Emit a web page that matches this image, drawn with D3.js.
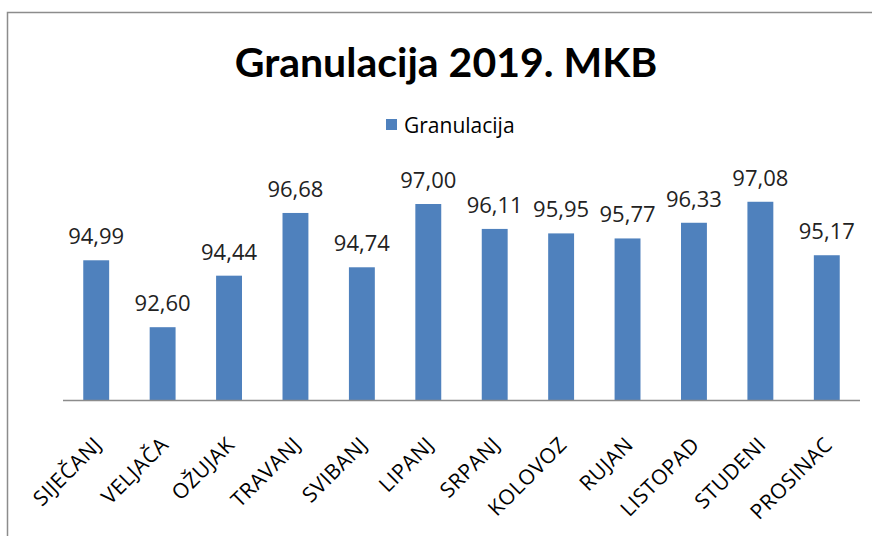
<!DOCTYPE html>
<html lang="hr">
<head>
  <meta charset="UTF-8">
  <title>Granulacija 2019. MKB</title>
  <script src="https://d3js.org/d3.v7.min.js"></script>
  <style type="text/css">
    body { margin: 0; background: #fff; }
    text { font-family: "Open Sans", sans-serif; fill: #000; }
  </style>
</head>
<body>
<script type="text/javascript">
  // data
  var months = ["SIJEČANJ", "VELJAČA", "OŽUJAK", "TRAVANJ", "SVIBANJ", "LIPANJ",
                "SRPANJ", "KOLOVOZ", "RUJAN", "LISTOPAD", "STUDENI", "PROSINAC"];
  var granulacija = [94.99, 92.60, 94.44, 96.68, 94.74, 97.00,
                     96.11, 95.95, 95.77, 96.33, 97.08, 95.17];
  var yDomain = [90, 98];
  var seriesName = "Granulacija";
  var chartTitle = "Granulacija 2019. MKB";

  var width = 872, height = 536;
  var plot = {left: 63, right: 860, top: 176, bottom: 400};

  var svg = d3.select("body").append("svg")
    .attr("width", width)
    .attr("height", height);

  // outer frame (right/bottom edges fall outside the picture)
  svg.append("path")
    .attr("d", "M7.5," + (height + 5) + "V12.5H" + (width + 5))
    .attr("fill", "none")
    .attr("stroke", "#8c8c8c")
    .attr("stroke-width", 1.5);

  svg.append("text")
    .attr("x", 446)
    .attr("y", 77)
    .attr("text-anchor", "middle")
    .style("font-family", "Lato, sans-serif")
    .style("font-weight", "bold")
    .style("font-size", "41px")
    .text(chartTitle);

  // legend
  svg.append("rect")
    .attr("x", 386).attr("y", 119)
    .attr("width", 11).attr("height", 11)
    .attr("fill", "#4f81bd");
  svg.append("text")
    .attr("x", 404).attr("y", 133)
    .style("font-size", "21px")
    .text(seriesName);

  var x = d3.scaleBand()
    .domain(months)
    .range([plot.left, plot.right])
    .paddingInner(0.61)
    .paddingOuter(0.305);

  var y = d3.scaleLinear()
    .domain(yDomain)
    .range([plot.bottom, plot.top]);

  svg.selectAll("rect.bar")
    .data(granulacija)
    .enter()
    .append("rect")
    .attr("class", "bar")
    .attr("x", function(d, i){ return x(months[i]); })
    .attr("y", function(d){ return y(d); })
    .attr("width", x.bandwidth())
    .attr("height", function(d){ return y(yDomain[0]) - y(d); })
    .attr("fill", "#4f81bd");

  svg.selectAll("text.val")
    .data(granulacija)
    .enter()
    .append("text")
    .attr("class", "val")
    .attr("x", function(d, i){ return x(months[i]) + x.bandwidth() / 2; })
    .attr("y", function(d){ return y(d) - 16; })
    .attr("text-anchor", "middle")
    .style("font-size", "22px")
    .style("fill", "#222")
    .text(function(d){ return d3.format(".2f")(d).replace(".", ","); });

  // category axis
  var xAxis = d3.axisBottom(x).tickSize(0).tickPadding(0);
  var gx = svg.append("g")
    .attr("transform", "translate(0," + plot.bottom + ")")
    .call(xAxis);
  gx.select(".domain")
    .attr("stroke", "#8c8c8c")
    .attr("stroke-width", 1.5)
    .attr("d", "M" + (plot.left) + ",0.5H" + plot.right);
  gx.selectAll(".tick text")
    .attr("x", 0).attr("y", 0).attr("dy", 0)
    .attr("text-anchor", "end")
    .attr("transform", "translate(7,46) rotate(-45)")
    .style("font-family", "Open Sans, sans-serif")
    .style("font-size", "21px")
    .style("letter-spacing", "0.5px")
    .style("fill", "#000");
</script>
</body>
</html>
